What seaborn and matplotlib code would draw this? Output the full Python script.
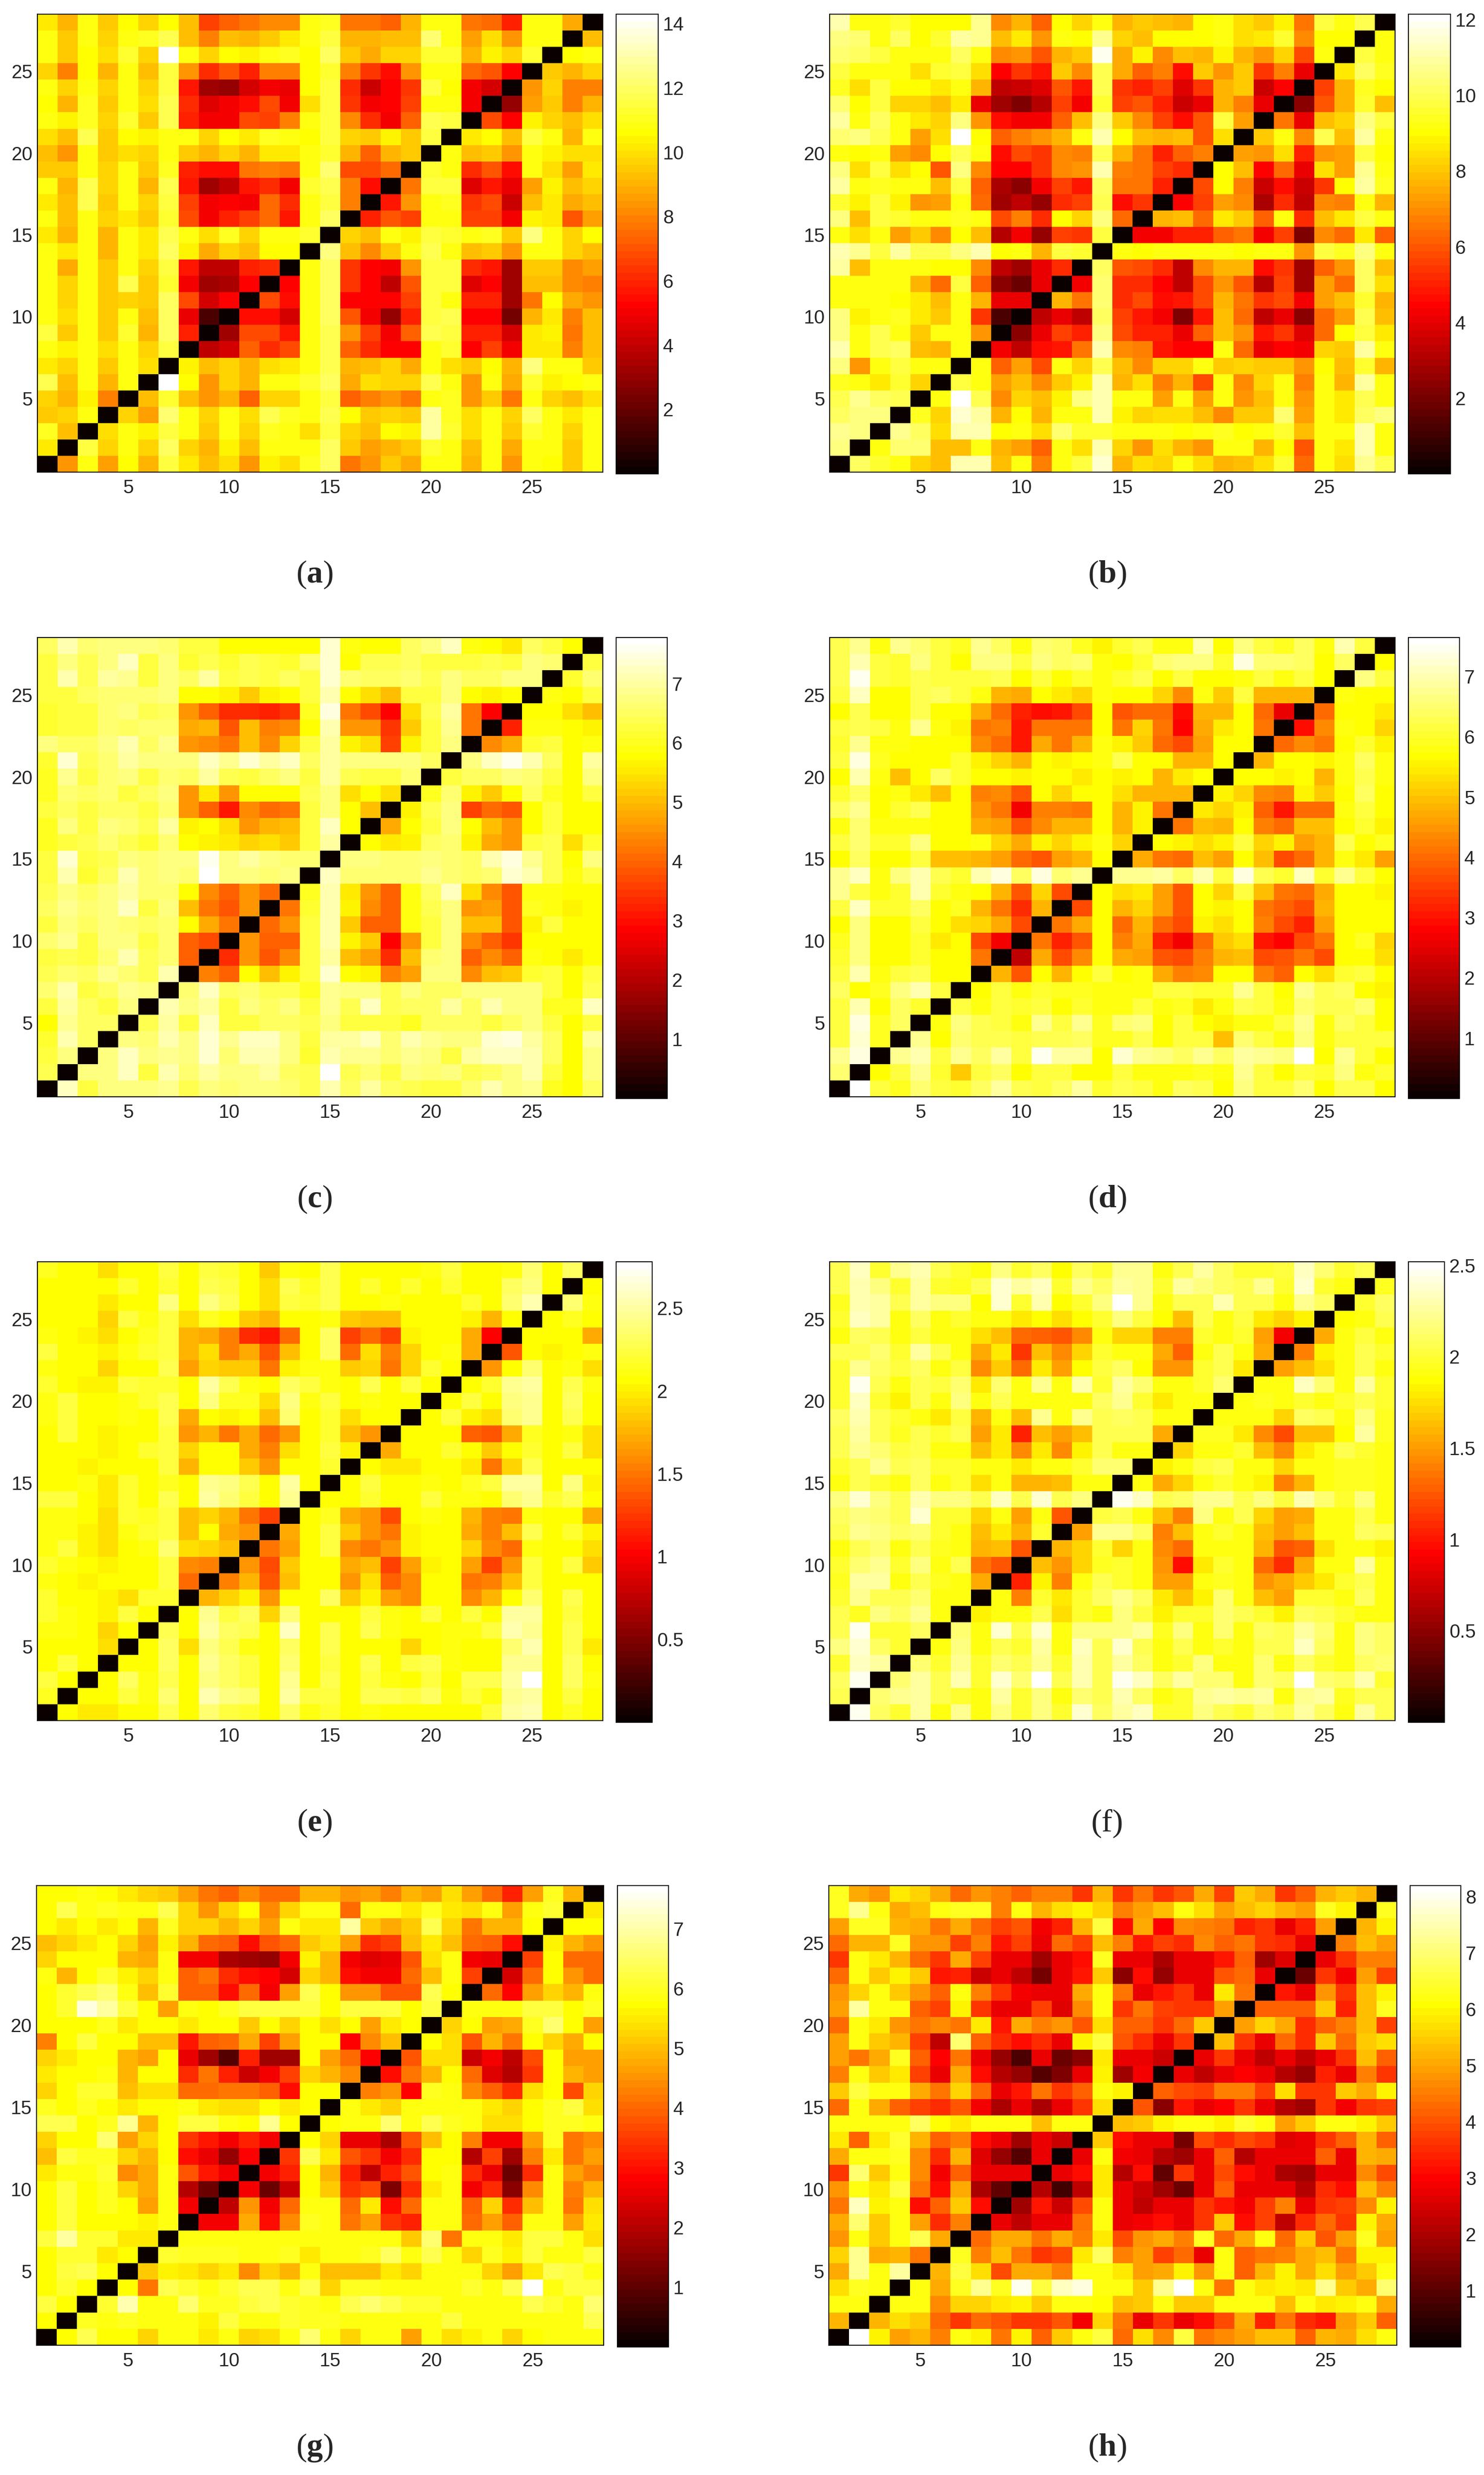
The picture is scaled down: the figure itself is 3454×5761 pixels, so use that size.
import numpy as np
import matplotlib
matplotlib.use('Agg')
import matplotlib.pyplot as plt
import seaborn as sns

# rows run from item 28 (top of the picture) down to item 1, columns 1..28
# a, b, c, d, g, h are in tenths of the colorbar unit, e and f in hundredths
panel_a = [
 [102,90,108,95,106,98,107,92,66,73,77,82,82,108,111,78,78,72,90,108,108,78,74,60,108,108,88,1],
 [108,95,108,98,108,110,118,92,80,92,90,95,101,108,115,90,90,92,92,122,108,85,100,83,108,108,1,92],
 [108,96,107,99,113,97,143,108,97,107,104,108,110,107,120,96,89,98,98,113,113,90,104,98,112,1,106,108],
 [98,80,107,90,108,92,114,84,62,70,60,80,80,107,113,80,64,54,84,108,108,74,70,52,1,96,90,97],
 [108,97,108,97,108,97,114,58,32,30,44,50,48,107,115,62,42,52,64,115,107,50,44,1,84,97,80,80],
 [107,90,111,96,108,100,118,62,46,50,54,68,50,99,115,64,50,52,66,108,108,50,1,30,86,94,80,90],
 [108,104,110,98,112,96,118,60,50,50,68,66,80,108,116,82,62,50,72,118,114,1,68,52,104,98,92,100],
 [100,92,118,96,107,103,108,108,97,107,102,110,108,107,115,98,94,104,96,114,1,102,107,93,115,108,90,108],
 [92,84,108,96,100,97,108,96,90,97,90,102,102,108,113,90,72,90,94,1,108,92,94,84,108,103,100,100],
 [96,94,108,98,108,96,110,60,54,54,78,80,76,108,122,68,68,74,1,112,108,62,70,54,108,100,86,102],
 [108,90,118,98,108,90,118,56,32,38,58,62,50,112,118,80,54,1,76,115,115,46,58,48,86,104,92,98],
 [102,92,118,96,108,98,116,66,50,52,50,74,62,108,114,80,1,58,84,108,110,64,68,42,92,102,88,92],
 [108,92,108,98,102,96,112,68,50,60,66,74,56,108,120,1,60,70,66,108,108,66,66,50,104,102,70,86],
 [102,90,108,90,108,102,118,108,100,110,98,108,108,113,1,98,92,108,104,114,113,108,110,96,124,108,98,107],
 [108,102,108,90,108,102,120,105,88,98,92,107,107,1,125,92,82,96,108,118,108,92,94,84,108,108,98,92],
 [108,88,108,96,108,98,116,56,38,38,60,62,1,108,120,64,52,50,84,116,114,62,58,32,94,94,82,86],
 [108,98,108,96,118,96,112,50,32,34,52,1,52,108,120,64,52,38,70,115,115,46,52,32,92,92,82,80],
 [108,98,108,96,98,96,120,68,44,52,1,68,54,108,120,52,52,52,66,115,108,60,60,32,78,106,88,84],
 [108,100,108,96,108,92,120,48,14,1,54,54,44,108,120,70,50,30,60,115,118,52,52,24,90,102,80,92],
 [115,95,108,96,112,90,120,60,1,32,68,68,58,108,118,84,66,50,72,118,116,60,60,44,102,104,76,92],
 [108,104,108,100,108,98,116,1,38,44,72,62,68,108,118,72,62,52,52,108,112,52,66,50,102,102,80,92],
 [102,98,108,96,108,100,1,104,92,98,90,100,102,108,118,90,92,98,88,108,100,96,106,90,125,108,108,94],
 [118,92,108,90,108,1,141,106,84,98,90,108,108,113,120,88,99,98,98,118,108,84,108,88,112,105,106,108],
 [97,90,104,80,1,92,113,92,84,90,72,98,97,108,114,72,80,84,76,108,110,84,96,78,108,98,92,100],
 [94,98,108,1,97,86,122,108,98,108,100,118,110,108,118,106,96,98,96,128,110,100,108,98,120,108,102,108],
 [111,92,1,100,108,104,116,108,96,108,98,110,108,100,115,98,92,106,104,128,113,100,108,96,112,108,98,108],
 [102,1,116,97,108,98,120,98,90,104,92,108,108,108,120,96,86,90,96,112,108,92,108,88,108,108,94,108],
 [1,84,108,86,106,90,114,102,92,99,84,103,100,110,120,78,84,94,88,108,108,90,108,84,108,106,94,108],
]
panel_b = [
 [112,92,92,96,91,91,91,108,70,76,62,91,82,92,76,80,78,76,91,92,85,80,88,66,98,92,100,1],
 [106,104,93,102,91,96,109,108,78,86,72,92,91,108,82,78,91,91,91,92,84,87,96,70,91,91,1,92],
 [104,102,98,92,92,92,102,92,70,72,60,76,80,118,75,88,70,78,76,88,76,72,82,58,92,1,98,92],
 [98,92,92,92,85,96,98,84,44,54,48,80,70,100,75,62,68,46,80,72,80,54,68,40,1,86,102,94],
 [94,85,98,90,90,86,92,76,34,36,38,60,48,100,54,50,56,38,54,76,80,36,44,1,56,76,94,90],
 [104,90,98,82,82,78,86,40,28,22,32,56,42,96,56,60,50,36,40,76,68,40,1,24,60,76,96,78],
 [110,93,102,92,86,82,106,72,46,42,42,62,78,106,80,70,56,46,60,98,74,1,66,40,78,82,106,98],
 [104,106,100,92,74,84,121,90,62,68,72,76,92,112,91,78,76,78,60,84,1,80,92,70,100,78,110,93],
 [92,91,92,74,70,90,100,92,46,58,54,70,68,100,76,66,50,62,68,1,74,72,84,50,72,74,98,90],
 [106,84,98,84,90,60,106,70,44,44,54,70,72,112,68,66,56,52,1,90,78,44,64,40,84,74,108,93],
 [110,92,94,92,92,78,98,62,30,24,42,56,48,102,66,66,50,1,58,91,68,36,46,36,54,91,110,94],
 [96,88,98,88,72,74,92,64,28,34,26,52,56,100,46,54,1,44,56,74,70,30,52,34,70,68,92,76],
 [106,78,98,96,92,92,94,92,58,68,52,90,82,106,64,1,76,78,64,86,80,62,92,52,78,86,98,93],
 [92,84,92,74,80,70,90,78,32,42,26,56,54,98,1,42,42,50,50,62,66,42,56,22,70,64,86,62],
 [112,108,98,110,100,100,106,112,90,92,76,98,96,1,92,90,92,92,92,92,90,92,92,72,98,94,106,92],
 [110,78,92,92,92,90,90,70,34,28,40,52,1,102,60,58,52,34,70,76,76,46,54,28,62,72,102,78],
 [92,92,92,92,76,64,98,62,24,18,40,1,42,104,52,52,44,34,58,72,60,32,56,28,74,64,102,84],
 [92,92,92,90,86,78,92,76,40,40,1,76,66,104,52,58,46,48,58,76,66,54,58,42,74,78,96,76],
 [106,88,92,94,86,80,92,54,12,1,34,40,34,102,56,48,42,22,48,78,64,34,40,24,64,74,100,78],
 [106,92,100,92,80,92,92,72,1,24,40,56,50,106,58,50,50,40,62,78,72,48,54,38,64,90,98,86],
 [112,92,100,102,78,76,92,1,42,34,46,48,66,112,70,68,48,44,44,92,64,40,44,42,82,80,110,92],
 [106,72,92,98,92,92,1,92,62,74,58,92,82,100,78,70,82,82,92,80,82,80,80,72,90,78,96,76],
 [94,92,86,96,82,1,98,92,74,78,70,80,88,112,76,84,68,76,58,92,70,82,92,68,92,76,110,92],
 [100,108,102,100,1,92,121,100,70,82,78,88,106,112,92,92,74,92,74,92,72,78,92,72,92,86,100,92],
 [102,106,106,1,94,82,114,110,76,90,76,92,92,112,88,82,84,84,78,70,80,80,104,74,92,86,102,106],
 [108,106,1,108,102,85,112,112,90,92,84,104,96,96,92,92,92,90,92,94,90,92,96,78,92,92,112,92],
 [106,1,92,104,104,78,78,92,76,74,62,92,84,112,82,72,84,76,72,92,92,76,90,60,92,86,112,92],
 [1,102,96,92,82,78,112,112,78,92,68,92,98,114,76,84,82,92,84,76,78,84,96,64,92,84,108,100],
]
panel_c = [
 [65,71,66,67,68,67,66,62,62,58,58,58,58,58,73,59,58,58,65,68,72,59,58,55,65,63,58,1],
 [62,68,64,67,72,62,68,61,64,61,64,63,61,66,73,58,64,64,65,63,63,62,64,62,68,66,1,62],
 [62,71,64,70,69,62,68,65,70,62,64,63,65,63,73,66,65,65,66,64,67,65,65,67,67,1,61,66],
 [62,63,65,66,66,66,68,58,58,57,52,56,58,62,71,58,54,50,62,62,67,58,56,58,1,59,58,62],
 [61,63,63,66,67,64,65,46,40,33,33,32,35,60,75,42,37,28,54,64,70,42,28,1,58,58,54,50],
 [61,63,63,66,65,66,66,48,49,38,51,43,44,58,71,46,46,35,52,63,69,42,1,32,59,59,58,57],
 [67,65,65,67,71,65,69,46,44,42,51,44,53,62,70,57,54,36,56,63,67,1,44,48,61,63,58,59],
 [61,73,64,66,70,67,67,67,72,69,73,70,72,65,70,67,67,67,68,65,1,68,72,76,71,65,58,70],
 [60,69,63,66,67,62,66,65,70,64,62,65,68,63,70,64,63,62,66,1,62,65,65,68,66,63,58,68],
 [60,66,65,66,62,65,67,46,55,45,58,58,58,64,68,54,58,54,1,60,66,56,52,58,65,60,58,63],
 [63,65,63,65,65,63,66,45,40,31,44,41,42,62,68,58,50,1,57,64,67,36,41,38,58,62,58,58],
 [60,68,63,68,66,64,70,57,58,54,46,49,51,63,72,58,1,48,58,63,67,58,50,45,58,62,58,58],
 [60,62,64,66,64,61,66,58,57,55,53,54,52,63,70,1,58,55,56,65,66,56,48,45,62,64,54,61],
 [63,74,63,64,67,66,67,67,76,68,70,67,66,66,1,67,67,66,66,68,66,65,71,75,69,64,58,68],
 [63,71,61,65,71,66,67,66,78,67,68,66,68,1,72,66,66,66,66,69,66,65,66,74,71,64,59,63],
 [64,68,65,67,70,66,66,58,44,40,46,41,1,60,71,55,46,39,59,65,72,54,44,38,59,59,58,58],
 [65,69,66,67,72,62,67,50,42,38,45,1,42,61,71,57,44,39,59,64,68,45,47,38,60,59,57,58],
 [63,68,65,67,66,65,66,58,48,42,1,41,46,63,71,52,40,39,59,62,67,50,50,38,56,62,58,58],
 [66,69,63,67,68,62,66,39,37,1,46,39,40,63,71,57,52,29,46,62,68,44,40,35,58,58,58,58],
 [62,64,63,66,71,64,66,39,1,33,46,38,44,63,70,51,47,34,50,66,68,40,44,40,59,58,55,58],
 [64,66,65,69,66,64,71,1,43,40,58,50,57,62,73,58,56,43,47,67,68,44,50,52,61,63,58,62],
 [66,71,63,65,69,67,1,66,72,65,66,64,64,60,69,67,67,64,68,65,65,68,68,68,68,62,58,64],
 [62,70,65,62,67,1,71,68,70,63,67,65,67,63,69,64,72,64,65,65,70,65,71,68,67,60,60,72],
 [58,69,65,65,1,64,70,62,72,62,62,65,65,64,68,63,63,63,60,65,65,65,63,65,67,63,58,62],
 [61,71,65,1,68,66,71,67,73,69,72,72,68,63,70,70,72,66,71,69,68,68,73,75,70,65,58,70],
 [62,68,1,67,72,67,69,67,74,66,71,71,67,61,71,69,69,66,69,67,62,70,72,72,71,65,58,68],
 [64,1,67,68,72,63,71,66,70,67,68,70,65,64,78,64,66,63,68,66,68,64,65,67,71,62,58,67],
 [1,72,63,67,68,68,69,64,68,66,67,68,66,64,71,65,70,65,64,62,63,66,71,68,69,60,58,65],
]
panel_d = [
 [63,68,58,67,65,62,59,68,64,58,65,64,59,55,60,63,58,58,70,57,66,61,59,64,58,70,62,1],
 [63,70,62,60,66,62,57,66,66,62,66,64,65,58,57,60,65,66,66,60,74,65,65,64,57,64,1,57],
 [63,75,61,60,63,61,61,61,63,57,61,57,60,58,60,63,57,61,57,57,58,61,58,62,57,1,66,61],
 [62,71,57,57,63,64,61,58,49,47,57,54,52,58,57,57,52,44,58,51,62,48,48,48,1,58,57,57],
 [57,63,57,57,63,57,57,47,40,32,29,31,36,57,38,40,40,29,49,49,57,40,26,1,40,57,57,54],
 [61,63,61,58,68,58,55,41,43,30,41,41,41,57,41,52,41,28,47,54,57,41,1,29,44,58,57,52],
 [60,67,58,58,57,57,57,44,40,31,47,41,48,58,55,51,40,36,46,57,57,1,40,44,41,57,60,56],
 [62,74,59,57,57,57,60,55,52,49,57,55,57,58,63,57,57,49,49,57,1,49,57,57,55,58,64,58],
 [57,70,58,50,57,64,60,57,57,55,57,57,54,57,55,57,48,54,57,1,57,57,55,57,48,58,63,58],
 [60,64,57,58,54,50,57,43,44,38,57,52,57,57,53,49,48,48,1,56,52,44,42,55,51,57,64,57],
 [64,68,57,60,63,57,57,45,41,27,43,43,41,57,48,55,41,1,54,52,55,39,30,40,40,58,62,57],
 [58,65,58,58,58,57,57,47,46,38,44,48,49,57,48,55,1,41,50,48,57,42,40,50,50,57,60,55],
 [61,65,60,60,66,57,57,58,52,47,55,52,56,58,52,1,57,56,53,56,62,52,55,46,49,63,57,59],
 [57,64,57,57,61,50,50,49,46,40,38,46,48,57,1,47,41,40,50,46,57,50,36,40,49,58,54,46],
 [68,71,58,66,70,63,60,70,74,64,73,65,67,1,67,67,69,64,70,62,73,63,60,71,60,68,62,57],
 [68,61,58,60,70,60,58,57,49,38,52,37,1,57,53,54,46,38,57,52,61,50,41,40,47,57,57,55],
 [62,71,60,60,64,57,59,48,41,33,48,1,36,57,49,52,46,38,57,56,57,41,39,36,49,57,57,57],
 [57,66,57,57,62,57,53,52,47,37,1,41,47,57,40,49,40,36,55,53,57,43,36,32,46,57,57,57],
 [59,66,57,57,60,54,57,37,27,1,41,32,38,57,43,47,32,27,40,51,53,31,28,36,41,57,59,52],
 [60,66,57,57,60,57,57,41,1,21,47,37,44,57,47,46,38,36,42,48,50,36,38,41,37,57,57,53],
 [62,70,58,61,63,57,57,1,48,38,57,49,57,62,57,58,47,42,44,57,57,43,39,57,53,60,61,57],
 [64,57,59,66,70,61,1,57,61,58,60,59,59,58,58,58,62,62,60,60,68,61,57,68,63,64,57,56],
 [62,70,57,64,60,1,61,58,61,60,62,57,60,58,58,61,58,59,54,58,63,62,58,65,63,63,65,57],
 [62,74,59,64,1,58,66,63,62,58,68,61,68,59,65,66,57,61,57,55,58,58,62,68,58,64,62,57],
 [61,72,59,1,67,57,65,63,63,61,63,63,64,59,59,63,57,61,61,50,65,61,58,66,58,61,61,62],
 [67,74,1,67,70,62,67,64,69,62,75,69,69,57,72,68,66,64,68,64,69,68,66,76,57,68,62,57],
 [65,1,57,61,68,60,51,61,64,57,61,61,57,57,62,58,58,58,59,58,68,61,57,62,60,66,58,60],
 [1,76,62,59,65,62,60,64,69,63,62,64,69,60,63,61,58,64,63,57,66,62,62,65,57,63,63,57],
]
panel_e = [
 [215,208,208,192,208,208,222,208,225,218,208,185,212,208,228,208,208,208,208,212,222,208,208,212,238,208,232,1],
 [208,208,208,208,218,208,218,208,230,225,208,195,228,215,230,208,218,208,220,208,218,208,208,232,240,208,1,208],
 [208,208,208,198,205,205,240,208,240,230,208,195,225,218,228,208,208,212,208,208,208,218,208,235,252,1,238,210],
 [208,208,208,190,222,210,222,195,215,208,185,175,208,208,212,185,182,182,208,208,208,200,175,208,1,208,215,208],
 [212,208,200,192,208,216,225,175,172,155,120,112,145,208,232,130,145,130,200,208,208,170,100,1,208,208,208,170],
 [225,208,208,200,210,220,222,178,192,155,172,135,180,208,232,145,192,155,190,208,212,170,1,138,208,200,208,212],
 [212,208,208,190,208,208,228,168,188,185,185,150,200,210,210,185,190,150,190,220,208,1,162,208,235,208,212,192],
 [218,208,200,200,225,218,218,208,248,230,212,205,232,222,212,208,228,208,222,208,1,208,218,245,250,208,230,212],
 [210,225,208,208,210,218,228,208,240,215,215,195,240,210,225,208,212,208,208,1,208,222,208,240,245,208,232,208],
 [212,225,208,208,212,208,228,172,208,200,208,182,238,208,220,195,208,205,1,208,222,200,192,235,245,208,230,208],
 [208,225,208,200,208,208,225,165,175,148,172,145,165,208,218,182,165,1,208,208,208,140,138,172,215,208,210,195],
 [208,208,208,200,208,218,225,190,208,208,170,155,195,208,222,200,1,170,208,208,218,208,185,205,218,208,225,192],
 [208,208,200,208,208,208,222,178,208,208,185,162,208,208,218,1,205,198,198,208,208,198,150,188,230,208,208,208],
 [208,208,212,198,218,208,215,208,245,240,228,208,248,208,1,208,222,208,208,212,208,215,225,250,250,208,240,200],
 [222,222,208,198,218,208,228,208,250,235,222,208,245,1,208,208,220,208,208,225,210,212,208,235,245,218,230,208],
 [212,212,208,195,218,215,222,180,190,178,150,130,1,208,215,172,162,132,208,212,208,175,155,152,212,208,208,172],
 [212,212,200,195,210,218,222,180,205,172,162,1,170,208,222,185,165,150,200,208,208,172,155,180,228,205,220,200],
 [212,222,200,192,208,210,235,195,190,180,1,148,168,208,222,160,150,165,200,208,208,188,160,145,212,208,208,195],
 [218,210,208,200,208,208,225,160,155,1,165,132,185,208,208,172,180,130,168,200,208,168,130,165,225,208,225,185],
 [210,208,200,208,208,208,225,145,1,155,175,138,182,208,208,165,192,140,158,208,205,152,155,182,222,208,208,205],
 [218,208,208,200,192,220,220,1,178,188,200,165,208,208,232,185,200,168,160,208,208,160,178,208,235,208,228,208],
 [220,210,208,200,222,208,1,208,245,225,232,190,235,208,208,208,222,212,208,222,208,225,208,250,250,208,222,208],
 [210,210,208,188,208,1,228,208,248,232,230,208,258,208,228,208,230,212,208,208,212,210,225,252,245,208,230,208],
 [208,208,208,195,1,208,232,192,240,228,212,208,232,208,228,208,208,208,190,208,212,208,208,235,255,208,228,198],
 [208,222,208,1,208,208,232,208,245,232,222,208,235,208,225,208,228,208,222,228,212,208,208,245,245,208,232,208],
 [222,208,1,205,232,212,228,208,240,232,225,208,245,208,228,208,222,212,208,222,208,228,228,250,278,208,232,212],
 [215,1,208,205,222,210,238,208,255,240,235,208,250,222,222,208,228,228,222,232,212,225,212,245,250,208,225,208],
 [1,205,198,198,208,208,228,208,235,225,218,205,232,210,218,208,212,208,208,208,208,208,222,250,252,208,215,208],
]
panel_f = [
 [205,235,200,222,232,208,198,190,218,198,212,187,210,198,222,222,189,208,225,212,198,198,202,235,215,200,208,1],
 [205,232,220,198,228,198,195,205,240,228,235,198,222,210,225,222,198,228,220,210,205,222,198,240,198,189,1,195],
 [195,232,225,205,225,220,220,188,240,200,232,188,198,218,252,222,189,205,205,232,205,208,189,222,212,1,198,210],
 [198,235,225,189,212,192,200,189,189,178,188,176,188,198,220,202,188,165,205,189,202,180,172,182,1,188,190,205],
 [192,212,205,189,202,189,189,175,165,132,128,125,145,189,170,170,140,140,200,190,198,150,90,1,155,189,202,190],
 [208,208,215,198,225,205,189,155,180,112,165,145,170,198,189,189,155,128,189,205,190,155,1,140,182,189,205,200],
 [198,222,210,202,212,192,202,142,168,130,180,152,186,202,212,188,148,148,200,205,178,1,150,165,175,189,205,190],
 [198,245,205,189,205,202,215,180,215,189,222,189,232,198,225,215,189,189,200,215,1,189,189,235,215,189,225,198],
 [198,235,198,182,205,192,218,189,205,189,192,189,189,212,222,198,178,189,192,1,189,195,189,200,190,200,205,198],
 [212,232,205,198,189,180,202,158,189,165,222,189,222,205,212,205,189,189,1,190,192,192,172,212,205,189,220,195],
 [205,225,205,195,205,200,205,150,180,105,165,150,162,205,205,205,155,1,195,195,180,145,122,165,165,188,228,195],
 [205,222,215,202,205,189,189,165,178,142,180,142,182,205,189,189,1,172,189,189,198,165,142,178,190,205,198,190],
 [198,208,222,205,212,198,200,189,189,178,189,189,198,215,215,1,185,189,202,205,189,189,170,189,189,195,195,189],
 [189,208,198,189,210,192,198,175,189,158,158,165,189,189,1,190,155,170,189,200,192,182,140,160,192,195,195,189],
 [218,240,218,208,232,218,218,205,235,205,240,205,218,1,245,235,205,210,222,222,205,220,202,232,215,200,218,189],
 [212,218,215,205,240,200,200,170,189,150,189,125,1,202,205,192,165,140,220,189,205,170,150,155,189,189,205,190],
 [208,222,218,212,215,198,189,165,178,160,198,1,150,222,222,210,140,165,189,200,189,165,150,165,189,189,212,205],
 [189,205,215,189,208,195,189,160,165,125,1,160,170,200,172,189,145,130,189,189,189,160,125,128,175,189,189,185],
 [198,215,222,198,218,189,205,135,125,1,165,148,170,195,198,189,148,95,180,198,189,130,110,155,189,189,225,189],
 [195,228,225,189,208,195,189,155,1,105,182,140,189,205,198,189,150,150,189,195,189,148,155,168,178,198,208,189],
 [198,222,208,208,215,189,189,1,189,140,198,180,198,212,222,212,178,165,185,215,189,162,150,198,198,189,212,189],
 [205,195,218,212,222,189,1,182,189,189,205,176,198,192,220,202,182,198,198,215,208,198,182,212,205,200,189,189],
 [208,245,200,200,212,1,215,189,240,205,240,192,218,218,218,228,195,218,189,215,192,212,208,225,215,189,218,212],
 [218,238,212,198,1,189,220,189,208,200,225,189,235,205,238,208,189,205,189,198,189,205,205,235,210,189,218,212],
 [198,235,225,1,215,198,222,198,215,205,222,200,232,205,228,210,189,198,218,189,192,215,192,212,198,189,212,215],
 [212,245,1,215,225,205,232,198,240,215,252,205,232,208,248,235,210,225,215,215,192,215,210,252,215,210,232,198],
 [208,1,215,222,225,208,200,189,225,198,220,189,215,205,232,212,192,200,222,225,222,225,189,222,225,195,205,208],
 [1,245,212,198,228,190,222,189,218,198,218,198,238,212,225,235,198,198,218,208,198,215,205,228,210,189,225,205],
]
panel_g = [
 [57,57,59,57,55,52,51,47,42,39,44,40,40,49,49,45,47,43,49,46,54,46,40,32,47,60,49,1],
 [57,63,58,60,58,58,63,52,45,53,57,44,52,58,58,41,58,58,55,60,55,54,59,47,58,61,1,55],
 [57,55,57,55,57,49,60,53,53,49,52,47,58,55,55,70,51,48,51,63,52,42,49,49,57,1,57,57],
 [50,53,55,57,52,47,56,49,40,39,29,38,40,51,54,46,33,36,50,55,50,40,39,29,1,56,49,45],
 [53,57,57,57,49,48,58,27,27,19,18,16,27,56,49,27,25,26,38,54,58,27,26,1,36,57,40,40],
 [58,49,57,61,56,53,58,39,42,33,29,28,23,52,49,29,27,27,40,50,58,36,1,23,41,57,45,40],
 [57,61,63,66,58,50,61,39,39,29,40,27,47,64,57,45,45,38,38,64,57,1,41,28,47,52,49,58],
 [57,61,74,69,62,57,47,59,57,60,62,62,62,62,57,62,62,62,57,62,1,58,58,58,62,62,57,60],
 [57,57,57,60,55,57,57,55,57,57,51,57,52,57,54,57,47,55,57,1,53,57,47,48,60,66,57,47],
 [43,57,62,57,57,50,50,31,39,40,48,36,47,57,57,28,44,50,1,57,54,38,49,42,57,53,48,57],
 [53,55,57,57,49,46,57,26,18,9,32,17,17,57,47,40,28,1,38,54,54,22,27,21,37,57,46,47],
 [55,57,57,58,49,57,57,33,42,32,22,27,36,53,49,44,1,30,42,49,57,40,25,20,35,57,49,46],
 [53,57,61,61,50,54,54,40,40,42,42,39,30,57,57,1,43,45,28,60,58,44,39,33,54,57,37,52],
 [60,57,60,57,55,57,57,58,55,54,54,57,55,57,1,58,55,53,58,58,58,58,55,52,57,60,62,54],
 [64,64,57,60,68,49,57,62,62,59,57,68,57,1,57,58,58,66,58,63,60,58,54,54,57,60,60,59],
 [53,57,57,66,47,52,57,34,31,27,32,27,1,57,52,26,26,19,38,50,57,43,27,27,46,60,42,44],
 [50,62,60,60,53,49,57,30,26,16,28,1,34,64,55,38,34,27,33,57,57,20,36,17,43,55,42,47],
 [55,58,58,61,44,48,58,38,31,27,1,27,32,57,49,32,21,32,38,57,58,33,26,11,33,58,47,43],
 [57,62,57,60,52,48,58,20,12,1,27,12,22,57,51,35,37,14,33,55,58,27,33,15,44,58,43,49],
 [57,62,57,60,57,47,58,27,1,21,45,27,40,58,58,40,55,30,40,58,58,39,53,33,50,58,42,54],
 [57,62,57,57,57,56,58,1,27,27,48,30,44,60,58,42,46,35,32,58,58,40,47,39,58,58,47,55],
 [62,70,61,61,55,55,1,58,58,58,58,58,58,58,58,59,59,58,51,66,42,58,58,55,62,62,58,54],
 [57,61,61,55,57,1,61,60,60,60,59,59,60,55,58,58,60,65,58,64,58,53,60,56,62,58,58,62],
 [57,62,63,57,1,51,56,55,52,55,44,53,49,59,50,50,50,55,52,58,58,58,53,47,55,64,62,58],
 [57,61,57,1,57,42,63,61,58,61,64,64,58,64,52,60,60,58,58,58,58,61,59,63,77,58,62,62],
 [62,57,1,61,71,58,58,66,60,60,62,64,61,60,58,63,66,64,61,61,58,59,59,59,63,61,58,66],
 [57,1,60,58,60,58,58,59,56,62,58,58,61,60,60,58,58,58,58,58,62,58,58,58,58,58,58,64],
 [1,57,63,57,57,52,58,58,55,58,53,54,58,66,58,53,58,58,47,58,54,56,58,52,57,58,58,58],
]
panel_h = [
 [63,51,48,58,56,50,43,48,46,42,45,46,36,52,36,44,37,40,50,38,54,51,36,41,52,54,52,1],
 [63,72,62,51,53,62,64,63,46,62,52,57,59,56,46,49,53,62,57,49,53,56,52,49,63,60,1,63],
 [49,63,64,52,50,44,51,43,38,40,29,34,52,66,32,50,30,47,46,44,34,36,28,34,49,1,52,60],
 [43,52,52,64,48,48,38,46,33,38,28,43,38,53,45,33,38,35,47,42,44,37,35,27,1,46,53,49],
 [36,62,58,52,43,37,51,38,27,27,19,27,32,63,28,28,20,28,27,33,42,19,26,1,28,36,46,45],
 [43,62,54,60,55,33,34,24,28,23,14,27,33,54,16,32,17,27,28,40,43,28,1,12,37,29,49,38],
 [48,56,62,55,48,42,62,46,37,29,27,27,50,62,44,28,33,37,27,58,44,1,33,27,48,37,53,60],
 [49,74,62,62,42,38,60,37,27,27,38,26,47,62,37,44,38,37,37,49,1,42,42,42,54,34,53,63],
 [43,62,58,48,44,47,44,58,33,51,45,48,40,57,42,41,37,43,54,1,49,56,50,35,42,46,53,38],
 [49,62,54,52,38,22,70,42,35,32,35,28,59,66,40,35,28,37,1,53,37,28,43,35,54,43,55,57],
 [49,44,50,63,42,30,44,27,17,8,28,12,16,58,27,27,24,1,28,36,27,23,27,23,28,36,53,41],
 [45,62,55,58,38,27,51,31,21,17,9,15,28,60,18,29,1,27,22,27,30,28,21,17,34,28,46,36],
 [54,66,62,62,51,44,56,43,27,33,44,36,41,62,60,1,42,39,38,46,46,38,57,36,36,55,51,60],
 [43,62,50,41,38,35,40,29,20,27,20,27,36,57,1,40,16,33,27,30,36,27,21,19,37,29,37,38],
 [62,62,62,62,68,61,58,62,62,62,53,62,62,1,53,55,59,62,62,59,65,62,49,55,62,62,60,55],
 [58,41,58,65,52,41,45,31,27,19,27,24,1,54,31,27,27,14,39,35,39,37,26,27,36,42,52,42],
 [50,62,62,64,47,35,52,26,17,9,27,1,28,62,29,27,21,19,28,42,21,27,27,27,42,28,52,50],
 [36,70,54,62,47,29,41,28,27,27,1,27,32,58,21,32,11,36,27,39,32,27,20,19,27,27,47,39],
 [48,62,58,66,44,32,51,20,11,1,21,7,22,58,27,24,18,12,27,42,27,27,27,21,35,31,53,46],
 [44,76,59,62,31,41,54,32,1,18,33,24,39,62,27,23,27,27,36,33,29,38,45,27,36,38,47,60],
 [50,70,54,62,49,35,46,1,27,22,27,27,44,62,27,29,32,27,37,54,31,38,23,35,43,36,60,51],
 [48,62,55,62,67,50,1,43,50,50,44,51,46,58,39,48,51,46,63,43,51,62,43,54,40,49,63,49],
 [56,72,50,52,44,1,63,45,53,44,36,39,58,68,45,49,38,43,27,62,42,44,45,51,53,44,59,59],
 [50,72,62,74,1,52,66,57,39,50,50,46,62,62,58,49,50,60,48,62,41,52,60,51,57,49,55,62],
 [57,64,62,1,62,51,63,72,64,80,66,76,79,62,62,55,72,82,62,44,62,58,60,58,72,54,50,70],
 [62,62,1,62,62,47,56,56,58,60,54,62,62,61,53,55,62,55,54,62,62,62,53,62,58,60,62,50],
 [52,1,52,57,54,43,37,43,40,37,36,40,29,56,44,28,37,27,32,39,50,34,44,35,33,49,54,41],
 [1,82,60,49,52,46,62,60,44,60,41,55,62,66,43,57,47,66,44,47,49,53,53,41,52,50,57,62],
]

divisors = [10, 10, 10, 10, 100, 100, 10, 10]
scale_max = [14.3, 12.15, 7.78, 7.65, 2.78, 2.52, 7.73, 8.2]
cbar_ticks = [
    [2, 4, 6, 8, 10, 12, 14],
    [2, 4, 6, 8, 10, 12],
    [1, 2, 3, 4, 5, 6, 7],
    [1, 2, 3, 4, 5, 6, 7],
    [0.5, 1, 1.5, 2, 2.5],
    [0.5, 1, 1.5, 2, 2.5],
    [1, 2, 3, 4, 5, 6, 7],
    [1, 2, 3, 4, 5, 6, 7, 8],
]
axis_ticks = [5, 10, 15, 20, 25]
letters = ['a', 'b', 'c', 'd', 'e', 'f', 'g', 'h']
panels = [panel_a, panel_b, panel_c, panel_d, panel_e, panel_f, panel_g, panel_h]

W, H = 3454, 5761
# pixel boxes in the picture: heatmap x0, x1, y0, y1, colorbar x0, x1, y1, then label x, y
boxes = [
    (87, 1403, 33, 1099, 1434, 1532, 1103, 732, 1338),
    (1931, 3247, 33, 1099, 3278, 3376, 1103, 2577, 1338),
    (87, 1403, 1484, 2553, 1434, 1553, 2557, 732, 2792),
    (1931, 3247, 1484, 2553, 3278, 3397, 2557, 2577, 2792),
    (87, 1403, 2937, 4005, 1434, 1518, 4009, 732, 4244),
    (1931, 3247, 2937, 4005, 3278, 3362, 4009, 2577, 4244),
    (85, 1405, 4389, 5459, 1437, 1556, 5463, 732, 5698),
    (1929, 3251, 4389, 5459, 3282, 3400, 5463, 2577, 5698),
]


def px_axes(fig, x0, x1, y0, y1):
    return fig.add_axes([x0 / W, 1 - y1 / H, (x1 - x0) / W, (y1 - y0) / H])


sns.set_style('white')
plt.rcParams['font.family'] = ['Liberation Sans', 'DejaVu Sans']
plt.rcParams['mathtext.fontset'] = 'custom'
plt.rcParams['mathtext.bf'] = 'Liberation Serif:bold'
plt.rcParams['mathtext.rm'] = 'Liberation Serif'

hot64 = matplotlib.colormaps['hot'].resampled(64)
fig = plt.figure(figsize=(W / 100, H / 100), dpi=100, facecolor='white')

for i, rows in enumerate(panels):
    x0, x1, y0, y1, cx0, cx1, cy1, lx, ly = boxes[i]
    values = np.array(rows, dtype=float) / divisors[i]
    ax = px_axes(fig, x0, x1, y0, y1)
    cax = px_axes(fig, cx0, cx1, y0, cy1)
    sns.heatmap(values, ax=ax, cbar_ax=cax, cmap=hot64, vmin=0, vmax=scale_max[i],
                xticklabels=False, yticklabels=False)

    ax.set_xticks([t - 0.5 for t in axis_ticks])
    ax.set_xticklabels([str(t) for t in axis_ticks])
    ax.set_yticks([28.5 - t for t in axis_ticks])
    ax.set_yticklabels([str(t) for t in axis_ticks], rotation=0)
    ax.tick_params(axis='both', direction='in', length=10, width=1.2, labelsize=32,
                   top=True, right=True, bottom=True, left=True, color='black')
    ax.tick_params(axis='x', pad=12)
    ax.tick_params(axis='y', pad=8)
    for s in ax.spines.values():
        s.set_visible(True)
        s.set_linewidth(1.6)
        s.set_color('black')

    cb = ax.collections[0].colorbar
    cb.set_ticks(cbar_ticks[i])
    cb.set_ticklabels([f'{t:g}' for t in cbar_ticks[i]])
    cax.tick_params(axis='y', direction='in', length=10, width=1.2, labelsize=32,
                    left=True, right=True, pad=8, color='black')
    cb.outline.set_visible(True)
    cb.outline.set_linewidth(1.6)
    cb.outline.set_edgecolor('black')

    label = f'($\\mathbf{{{letters[i]}}}$)' if letters[i] != 'f' else '(f)'
    fig.text(lx / W, 1 - ly / H, label, ha='center', va='center', fontsize=54,
             family='Liberation Serif')

fig.savefig('out.png', dpi=100, facecolor='white')
